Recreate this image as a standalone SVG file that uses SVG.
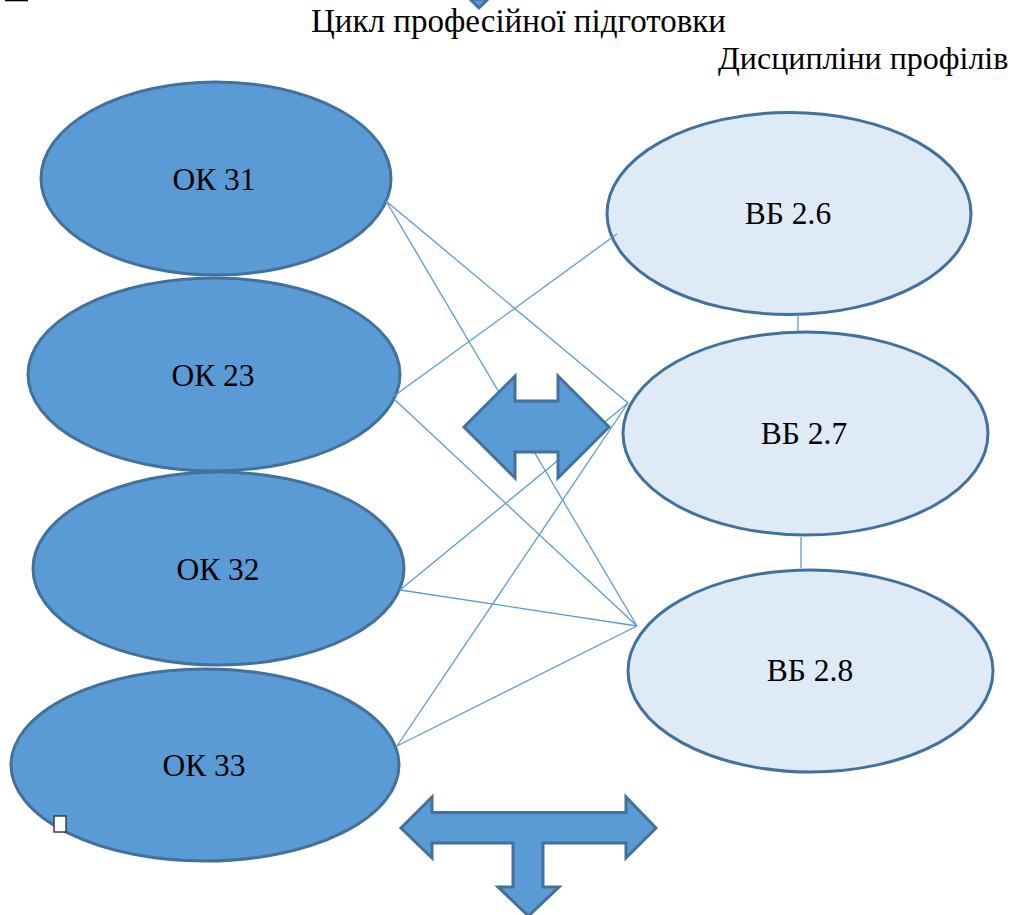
<svg xmlns="http://www.w3.org/2000/svg" width="1019" height="915" viewBox="0 0 1019 915">
<style>
text{font-family:"Liberation Serif","Times New Roman",serif;font-size:31.5px;fill:#000}
.dark{fill:#5b9bd5;stroke:#41719c;stroke-width:3}
.light{fill:#deeaf6;stroke:#41719c;stroke-width:3}
.lab{text-anchor:middle}
#connectors line{stroke:#5b9bd5;stroke-width:1.3}
</style>
<rect width="1019" height="915" fill="#fff"/>
<rect id="top-bar" x="5" y="0" width="23" height="1.3" fill="#000"/>
<polygon id="top-arrow-tip" points="470,-1 488,-1 479,8" class="dark"/>
<text id="title" x="311" y="32" style="font-size:33px">Цикл професійної підготовки</text>
<text id="subtitle" x="718" y="69" style="font-size:32px">Дисципліни профілів</text>
<g id="ok31"><ellipse class="dark" cx="216" cy="178.5" rx="175" ry="96.5"/><text class="lab" x="214" y="190">ОК 31</text></g>
<g id="ok23"><ellipse class="dark" cx="214" cy="374.5" rx="186" ry="96.5"/><text class="lab" x="213" y="386">ОК 23</text></g>
<g id="ok32"><ellipse class="dark" cx="218.5" cy="568.5" rx="185.5" ry="96.5"/><text class="lab" x="218" y="580">ОК 32</text></g>
<g id="ok33"><ellipse class="dark" cx="205" cy="765" rx="194" ry="96"/><text class="lab" x="204" y="776">ОК 33</text></g>
<g id="vb26"><ellipse class="light" cx="789" cy="213.5" rx="182" ry="101"/><text class="lab" x="788" y="224">ВБ 2.6</text></g>
<g id="vb27"><ellipse class="light" cx="805.5" cy="433.5" rx="182.5" ry="101.5"/><text class="lab" x="804" y="444">ВБ 2.7</text></g>
<g id="vb28"><ellipse class="light" cx="810.5" cy="671" rx="182.5" ry="101"/><text class="lab" x="810" y="681">ВБ 2.8</text></g>
<g id="connectors">
<line x1="386" y1="201" x2="637" y2="626"/>
<line x1="386" y1="201" x2="628" y2="403"/>
<line x1="394" y1="396" x2="617" y2="234"/>
<line x1="394" y1="399" x2="637" y2="626"/>
<line x1="400" y1="590" x2="628" y2="403"/>
<line x1="400" y1="590" x2="637" y2="626"/>
<line x1="397" y1="746" x2="628" y2="403"/>
<line x1="397" y1="746" x2="637" y2="626"/>
<line x1="798" y1="316" x2="798" y2="331"/>
<line x1="801" y1="537" x2="801" y2="568"/>
</g>
<g id="double-arrow"><polygon class="dark" points="464,427 515,376 515,401 558,401 558,376 609,427 558,478 558,452 515,452 515,478"/></g>
<g id="t-arrow"><polygon class="dark" points="401,828 432,797 432,812.5 626,812.5 626,797 656,828 626,858 626,843 543,843 543,887 559,887 528.5,916 498,887 513,887 513,843 432,843 432,858"/></g>
<rect id="handle" x="54" y="816" width="12" height="16" fill="#fff" stroke="#333" stroke-width="1.4"/>
</svg>
